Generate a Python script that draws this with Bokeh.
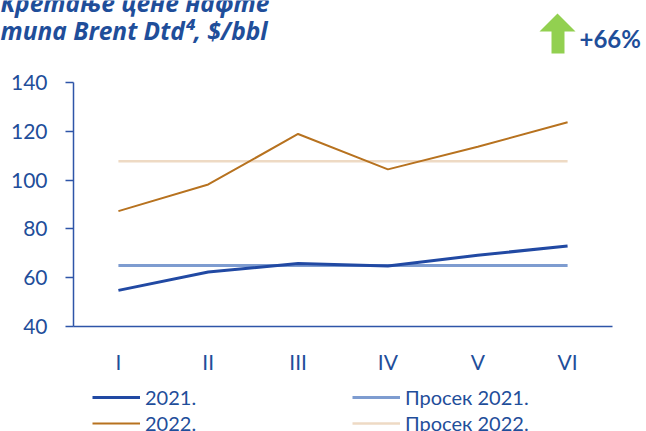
from bokeh.plotting import figure
from bokeh.models import FixedTicker, Label, Legend, LegendItem, PolyAnnotation, Range1d
from bokeh.embed import file_html
from bokeh.resources import INLINE

months = ["I", "II", "III", "IV", "V", "VI"]
brent_2021 = [54.8, 62.3, 65.8, 64.8, 69.2, 73.0]
brent_2022 = [87.3, 98.2, 118.9, 104.4, 113.7, 123.7]
y_ticks = [40, 60, 80, 100, 120, 140]
series_names = ["2021.", "2022.", "Просек 2021.", "Просек 2022."]
title_lines = ["Кретање цене нафте", "типа Brent Dtd⁴, $/bbl"]
change_label = "+66%"

avg_2021 = sum(brent_2021) / len(brent_2021)
avg_2022 = sum(brent_2022) / len(brent_2022)
xpos = [i + 0.5 for i in range(len(months))]

BLUE_TXT = "#1F4E9A"
AXIS = "#2E55A8"
C21 = "#2149A3"
C21A = "#7E9CD0"
C22 = "#B7721F"
C22A = "#EEDAC4"
FONT = "Lato"
TITLE_FONT = "Open Sans"

W, H = 646, 431
# plot-area placement in page pixels
AX_L, AX_R, AX_TOP, AX_BOT = 73, 612, 82, 326
ymin, ymax = y_ticks[0], y_ticks[-1]
ppx = (AX_R - AX_L) / len(months)
ppy = (AX_BOT - AX_TOP) / (ymax - ymin)

p = figure(width=W, height=H,
           x_range=Range1d(-AX_L / ppx, len(months) + (W - AX_R) / ppx),
           y_range=Range1d(ymin - (H - AX_BOT) / ppy, ymax + AX_TOP / ppy),
           output_backend="svg", toolbar_location=None,
           min_border=0, min_border_left=0, min_border_right=0,
           min_border_top=0, min_border_bottom=0)
p.outline_line_color = None
p.grid.grid_line_color = None

r21a = p.line(xpos, [avg_2021] * len(months), line_color=C21A, line_width=3)
r22a = p.line(xpos, [avg_2022] * len(months), line_color=C22A, line_width=2.5)
r21 = p.line(xpos, brent_2021, line_color=C21, line_width=3)
r22 = p.line(xpos, brent_2022, line_color=C22, line_width=2)

ya = p.yaxis[0]
ya.fixed_location = 0
ya.bounds = (ymin, ymax)
ya.ticker = FixedTicker(ticks=y_ticks)
ya.axis_line_color = AXIS
ya.axis_line_width = 1.5
ya.major_tick_line_color = AXIS
ya.major_tick_line_width = 1.5
ya.major_tick_out = 8
ya.major_tick_in = 0
ya.minor_tick_line_color = None
ya.major_label_standoff = 18
ya.major_label_text_font = FONT
ya.major_label_text_font_size = "21px"
ya.major_label_text_color = BLUE_TXT

xa = p.xaxis[0]
xa.fixed_location = ymin
xa.bounds = (0, len(months))
xa.ticker = FixedTicker(ticks=xpos)
xa.major_label_overrides = {x: m for x, m in zip(xpos, months)}
xa.axis_line_color = AXIS
xa.axis_line_width = 1.5
xa.major_tick_line_color = None
xa.major_tick_out = 0
xa.major_tick_in = 0
xa.minor_tick_line_color = None
xa.major_label_standoff = 22
xa.major_label_text_font = FONT
xa.major_label_text_font_size = "21px"
xa.major_label_text_color = BLUE_TXT

def make_legend(items, loc):
    return Legend(items=items, location=loc, orientation="vertical",
                  glyph_width=48, glyph_height=20, label_height=20, label_standoff=5,
                  spacing=2, padding=0, margin=0, border_line_color=None,
                  background_fill_alpha=0, label_text_font=FONT,
                  label_text_font_size="20px", label_text_color=BLUE_TXT)

leg1 = make_legend([LegendItem(label=series_names[0], renderers=[r21]),
                    LegendItem(label=series_names[1], renderers=[r22])], (92, -4))
leg2 = make_legend([LegendItem(label=series_names[2], renderers=[r21a]),
                    LegendItem(label=series_names[3], renderers=[r22a])], (352, -4))
p.add_layout(leg1, "center")
p.add_layout(leg2, "center")

def lab(text, px, py, size, style, font=FONT):
    return Label(x=px, y=H - py, x_units="screen", y_units="screen", text=text,
                 text_font=font, text_font_size=size, text_font_style=style,
                 text_color=BLUE_TXT, text_baseline="middle")

p.add_layout(lab(title_lines[0], 0, 2, "24.5px", "bold italic", TITLE_FONT))
p.add_layout(lab(title_lines[1], 0, 30, "24.5px", "bold italic", TITLE_FONT))

ax = [551, 564, 564, 575, 557, 539, 551]
ay = [53, 53, 31, 31, 13, 31, 31]
p.add_layout(PolyAnnotation(xs=ax, ys=[H - v for v in ay],
                            xs_units="screen", ys_units="screen",
                            fill_color="#92D050", fill_alpha=1, line_color=None))
p.add_layout(lab(change_label, 579, 38, "24px", "bold"))

open("out.html", "w").write(file_html(p, INLINE))
